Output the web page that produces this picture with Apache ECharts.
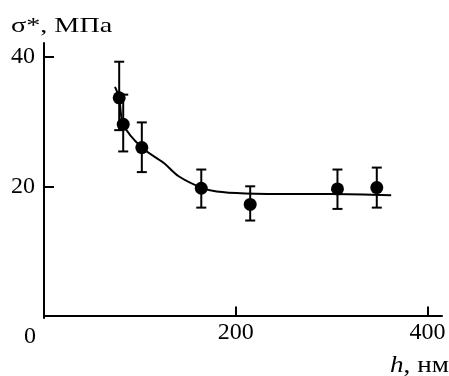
<!DOCTYPE html>
<html>
<head>
<meta charset="utf-8">
<script src="https://cdn.jsdelivr.net/npm/echarts@6/dist/echarts.min.js"></script>
<style>
  html, body { margin: 0; padding: 0; background: #fff; }
  #chart { width: 449px; height: 376px; }
</style>
</head>
<body>
<div id="chart"></div>
<script>
// measured points: thickness h (nm) and stress sigma* (MPa)
const hValues = [78.4, 82.6, 102, 164, 215, 306, 347];
const sigmaValues = [33.7, 29.6, 26.0, 19.7, 17.2, 19.6, 19.8];
const errLow = [28.7, 25.4, 22.2, 16.7, 14.7, 16.5, 16.7];
const errHigh = [39.3, 34.2, 29.9, 22.6, 20.0, 22.6, 22.9];

// fitted curve
const fitH = [74, 78.4, 82.6, 102, 125, 140, 164, 180, 210, 260, 300, 362];
const fitSigma = [35.4, 33.7, 29.6, 26.0, 23.6, 21.6, 19.8, 19.2, 18.9, 18.8, 18.8, 18.6];

const xTicks = [200, 400];
const yTicks = [20, 40];

const font = '"Liberation Serif", "DejaVu Serif", serif';

const chartDom = document.getElementById('chart');
const chart = echarts.init(chartDom);

const points = hValues.map((h, i) => [h, sigmaValues[i]]);
const errors = hValues.map((h, i) => [h, errLow[i], errHigh[i]]);
const fit = fitH.map((h, i) => [h, fitSigma[i]]);

const option = {
  animation: false,
  grid: { left: 44, right: 7, top: 43, bottom: 58 },
  xAxis: {
    type: 'value',
    min: 0,
    max: 415,
    axisLine: { lineStyle: { color: '#000', width: 2 } },
    axisTick: { inside: true, length: 9, customValues: xTicks, lineStyle: { color: '#000', width: 2 } },
    axisLabel: { customValues: xTicks, color: '#000', fontFamily: font, fontSize: 24, margin: 3 },
    splitLine: { show: false }
  },
  yAxis: {
    type: 'value',
    min: -0.4,
    max: 42.2,
    axisLine: { show: true, lineStyle: { color: '#000', width: 2 } },
    axisTick: { show: true, inside: true, length: 10, customValues: yTicks, lineStyle: { color: '#000', width: 2 } },
    axisLabel: { customValues: yTicks, color: '#000', fontFamily: font, fontSize: 24, margin: 9 },
    splitLine: { show: false }
  },
  graphic: [
    {
      type: 'text', x: 11, y: 15, scaleX: 1.28,
      style: { text: 'σ*, МПа', font: '22px ' + font, fill: '#000' }
    },
    {
      type: 'text', x: 24, y: 325,
      style: { text: '0', font: '24px ' + font, fill: '#000' }
    },
    {
      type: 'text', x: 390, y: 354, scaleX: 1.18,
      style: {
        text: '{i|h}, нм',
        font: '23px ' + font,
        fill: '#000',
        rich: { i: { fontStyle: 'italic', fontFamily: font, fontSize: 23 } }
      }
    }
  ],
  series: [
    {
      type: 'line',
      data: fit,
      smooth: 0.3,
      symbol: 'none',
      lineStyle: { color: '#000', width: 2 },
      z: 2
    },
    {
      type: 'custom',
      data: errors,
      renderItem: function (params, api) {
        const x = api.value(0);
        const lo = api.coord([x, api.value(1)]);
        const hi = api.coord([x, api.value(2)]);
        const cap = 5;
        const style = { stroke: '#000', lineWidth: 2, fill: null };
        return {
          type: 'group',
          children: [
            { type: 'line', shape: { x1: lo[0], y1: lo[1], x2: hi[0], y2: hi[1] }, style: style },
            { type: 'line', shape: { x1: hi[0] - cap, y1: hi[1], x2: hi[0] + cap, y2: hi[1] }, style: style },
            { type: 'line', shape: { x1: lo[0] - cap, y1: lo[1], x2: lo[0] + cap, y2: lo[1] }, style: style }
          ]
        };
      },
      z: 3
    },
    {
      type: 'scatter',
      data: points,
      symbol: 'circle',
      symbolSize: 13,
      itemStyle: { color: '#000', opacity: 1 },
      z: 4
    }
  ]
};

chart.setOption(option);

window.addEventListener('resize', () => {
  chart.resize();
});
</script>
</body>
</html>
